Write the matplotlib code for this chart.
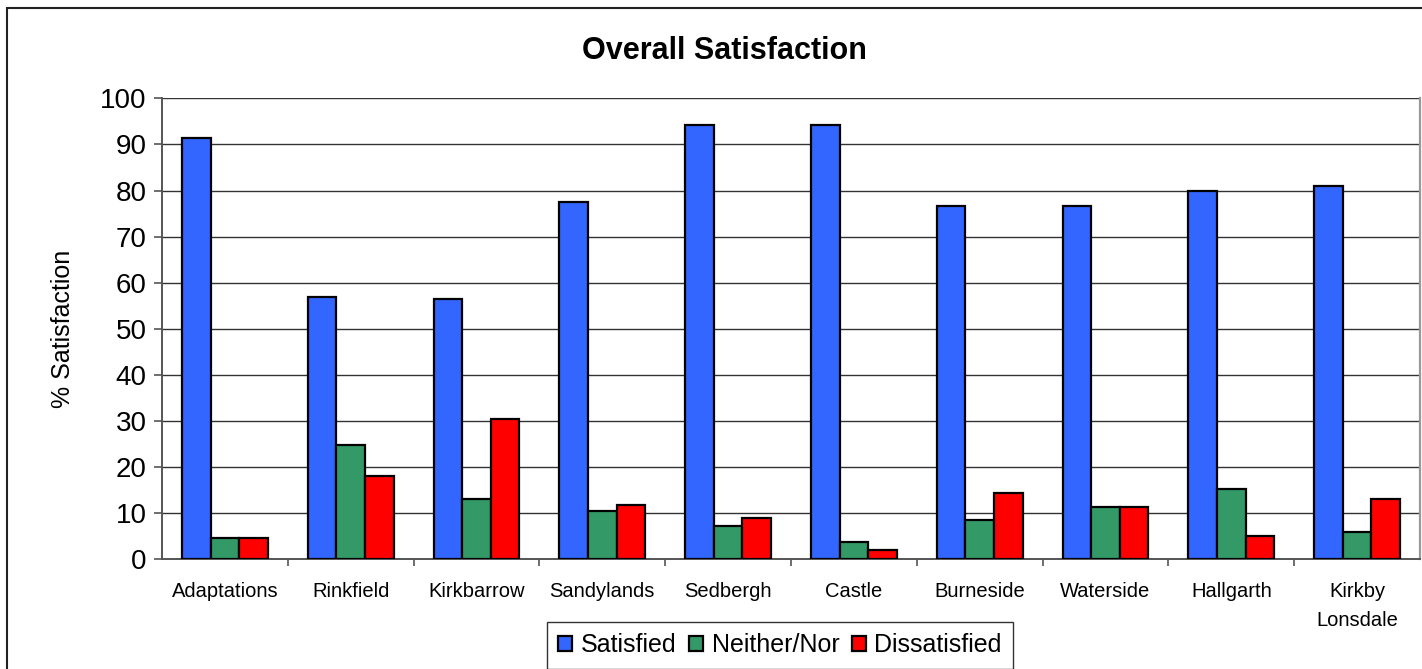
import numpy as np
import matplotlib
matplotlib.use("Agg")
import matplotlib.pyplot as plt
from matplotlib.patches import Rectangle

plt.rcParams['font.family'] = ['Liberation Sans', 'DejaVu Sans']

sites = ["Adaptations", "Rinkfield", "Kirkbarrow", "Sandylands", "Sedbergh",
         "Castle", "Burneside", "Waterside", "Hallgarth", "Kirkby\nLonsdale"]
satisfied    = [91.3, 57.0, 56.5, 77.6, 94.2, 94.2, 76.7, 76.7, 80.0, 81.0]
neither      = [4.6, 24.9, 13.1, 10.5, 7.2, 3.8, 8.5, 11.4, 15.3, 5.9]
dissatisfied = [4.6, 18.1, 30.4, 11.8, 8.9, 2.0, 14.4, 11.4, 5.1, 13.1]

series = [("Satisfied", satisfied, "#3366ff"),
          ("Neither/Nor", neither, "#339966"),
          ("Dissatisfied", dissatisfied, "#ff0000")]

fig = plt.figure(figsize=(14.22, 6.69), dpi=100)
ax = fig.add_axes([162 / 1422, 1 - 559.3 / 669, (1420 - 162) / 1422, (559.3 - 98.3) / 669])

x = np.arange(len(sites)); w = 0.227
for i, (name, vals, col) in enumerate(series):
    ax.bar(x + (i - 1) * w, vals, w, color=col, edgecolor="black", lw=1.6,
           label=name, zorder=3)

ax.set_xlim(-0.5, len(sites) - 0.5)
ax.set_ylim(0, 100)
ax.set_yticks(range(0, 101, 10))
ax.yaxis.grid(True, color="#333333", lw=1.0, zorder=0)
ax.set_xticks(np.arange(0.5, len(sites) - 0.5, 1))
ax.set_xticklabels([])
ax.set_xticks(x, minor=True)
ax.set_xticklabels(sites, minor=True, fontsize=14.5, linespacing=1.7)
ax.tick_params(axis="x", which="minor", length=0, pad=16)
ax.tick_params(axis="x", which="major", length=5, color="#555555", width=1.2)
ax.tick_params(axis="y", length=6, color="#555555", width=1.2, labelsize=20, pad=5)
for s in ("left", "bottom"):
    ax.spines[s].set_color("#555555"); ax.spines[s].set_linewidth(1.4)
ax.spines["top"].set_visible(False)
ax.spines["right"].set_color("#999999"); ax.spines["right"].set_linewidth(1.6)
ax.set_ylabel("% Satisfaction", fontsize=18, labelpad=18)

fig.text(724 / 1422, 1 - 51 / 669, "Overall Satisfaction", fontsize=22,
         fontweight="bold", ha="center", va="center")

ax.legend(loc="upper center", bbox_to_anchor=(780 / 1422, 1 - 622 / 669),
          bbox_transform=fig.transFigure, ncol=3, fontsize=18, frameon=True,
          fancybox=False, edgecolor="black", handlelength=0.55, handleheight=0.55,
          handletextpad=0.35, columnspacing=0.5, borderpad=0.45, borderaxespad=0)

fig.patches.append(Rectangle((7 / 1422, -0.05), 1.2, 1.05 - 8 / 669,
                             transform=fig.transFigure, fill=False,
                             edgecolor="#222222", lw=1.5))

fig.savefig("out.png", dpi=100)
